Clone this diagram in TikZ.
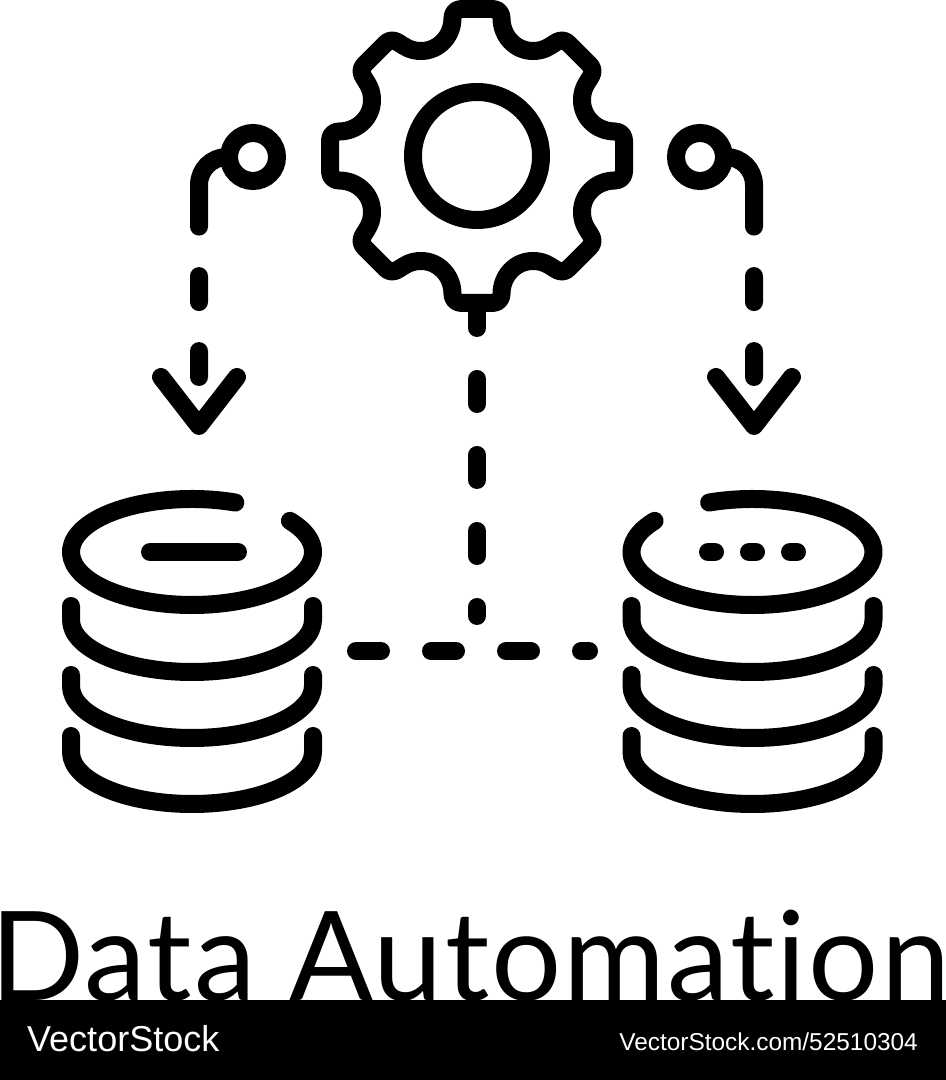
\documentclass[tikz,border=0pt]{standalone}
\usepackage{fontspec}
\setmainfont{Lato}[Ligatures=NoCommon, LetterSpace=1.6]
\newfontfamily\logofont{Liberation Sans}
\tikzset{
  iconline/.style={line width=18pt, line cap=round, line join=round},
  ring/.style={circle, draw, line width=18pt, inner sep=0pt, outer sep=0pt},
  linkdash/.style={iconline, dash pattern=on 25pt off 51pt},
  linkbend/.style={iconline, rounded corners=28pt, dash pattern=on 87.5pt off 49.5pt on 26pt off 49pt on 26pt},
}
\begin{document}
\begin{tikzpicture}[x=1pt, y=1pt]
\useasboundingbox (0,0) rectangle (946,1080);

\node[ring, minimum size=128pt] (hub) at (477,924) {};
\node[ring, minimum size=48pt] (portL) at (253,923) {};
\node[ring, minimum size=48pt] (portR) at (700,923) {};

\foreach \sx/\sy in {1/1,-1/1,1/-1,-1/-1}
  \draw[iconline, shift={(hub.center)}, xscale=\sx, yscale=\sy]
    (0,147) -- (15.5,147) .. controls (21,147) and (24.5,143) .. (24.5,138)
    .. controls (24.5,120) and (38,105) .. (56,105)
    .. controls (66,105) and (72,109) .. (78,113)
    .. controls (82,116) and (88,117) .. (92,112)
    -- (112,92)
    .. controls (117,88) and (116,82) .. (113,78)
    .. controls (109,72) and (105,66) .. (105,56)
    .. controls (105,38) and (120,24.5) .. (138,24.5)
    .. controls (143,24.5) and (147,21) .. (147,15.5) -- (147,0);

\coordinate (gearfoot) at (477,777);
\coordinate (junction) at (477,464);
\coordinate (stackL) at (356,429);
\coordinate (stackR) at (589,429);
\coordinate (stemL) at (199,703);
\coordinate (stemR) at (754,703);
\coordinate (tipL) at (199,654);
\coordinate (tipR) at (754,654);

\draw[linkdash] (gearfoot) -- (junction);
\draw[iconline, dash pattern=on 25pt off 50pt] (stackL) -- (stackR);
\draw[linkbend] (portL.west) -| (stemL);
\draw[linkbend] (portR.east) -| (stemR);
\draw[iconline] (161,703) -- (tipL) -- (237,703);
\draw[iconline] (716,703) -- (tipR) -- (792,703);

\foreach \cx/\from/\to in {192/69/396, 752.5/111/-216}
  \draw[iconline] (\cx,528) ++(\from:121 and 53) arc[start angle=\from, end angle=\to, x radius=121, y radius=53];
\foreach \cx in {192,752.5}
  \foreach \ytop/\ymid in {474/460, 405/394, 344/328}
    \draw[iconline] (\cx-121,\ytop) -- (\cx-121,\ymid) arc[start angle=180, end angle=360, x radius=121, y radius=52] -- (\cx+121,\ytop);

\draw[iconline] (150,528) -- (238,528);
\draw[iconline] (708,528) -- (715,528);
\draw[iconline] (749,528) -- (756,528);
\draw[iconline] (790,528) -- (797,528);

\node[anchor=base west, inner sep=0pt, font=\fontsize{124}{124}\selectfont] (title) at (0,79) {\hspace*{-10pt}Data Automation};
\fill[black] (0,0) rectangle (946,80);
\node[anchor=base west, inner sep=0pt, text=white, font=\logofont\fontsize{36}{36}\selectfont] (brand) at (27,28) {VectorStock};
\node[anchor=base east, inner sep=0pt, text=white, font=\logofont\fontsize{24.4}{24.4}\selectfont] (stockid) at (918,29) {VectorStock.com/52510304};
\end{tikzpicture}
\end{document}
